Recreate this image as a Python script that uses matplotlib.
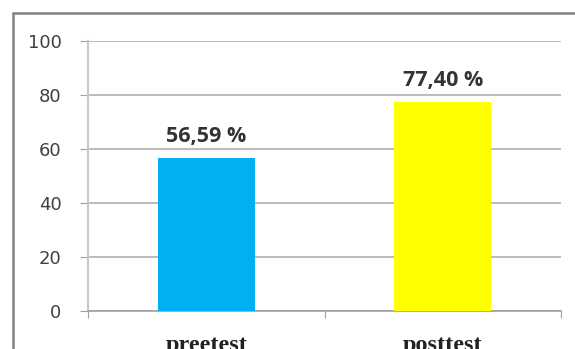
import matplotlib.pyplot as plt
from matplotlib.patches import Rectangle

categories = ["preetest", "posttest"]
values = [56.59, 77.40]
value_labels = ["56,59 %", "77,40 %"]
bar_colors = ["#00b0f0", "#ffff00"]
y_ticks = [0, 20, 40, 60, 80, 100]

fig = plt.figure(figsize=(5.75, 3.49), dpi=100)
ax = fig.add_axes([0.153, 0.109, 0.823, 0.774])

# outer chart border (cut off at right and bottom in the original)
fig.patches.append(Rectangle((13 / 575, -0.1), 1.2, 1 - 13 / 349 + 0.1,
                             transform=fig.transFigure, fill=False,
                             edgecolor="#808080", linewidth=1.8))

x = [0.5, 1.5]
ax.bar(x, values, width=0.41, color=bar_colors, zorder=3)
for xi, v, lab in zip(x, values, value_labels):
    ax.annotate(lab, (xi, v), xytext=(0, 8), textcoords="offset points",
                ha="center", va="bottom", fontsize=15.5, fontweight="bold",
                color="#333333", family="Open Sans")

ax.set_xlim(0, 2)
ax.set_ylim(0, 100)
ax.set_yticks(y_ticks)
ax.set_yticklabels([str(t) for t in y_ticks], fontsize=13, color="#404040",
                   family="DejaVu Sans")
ax.yaxis.grid(True, color="#b0b0b0", linewidth=1.2)
ax.set_axisbelow(True)

ax.set_xticks([0, 1, 2])
ax.set_xticklabels([])
ax.set_xticks(x, minor=True)
ax.set_xticklabels(categories, minor=True, fontsize=17.5, fontweight="bold",
                   family="Liberation Serif", color="#222222")
ax.tick_params(axis="x", which="minor", length=0, pad=17)
ax.tick_params(axis="x", which="major", length=5, color="#a0a0a0", direction="out")
ax.tick_params(axis="y", length=6, color="#a0a0a0", pad=13)

for s in ["top", "right"]:
    ax.spines[s].set_visible(False)
ax.spines["left"].set_color("#c8c8c8")
ax.spines["left"].set_linewidth(1.5)
ax.spines["bottom"].set_color("#a0a0a0")
ax.spines["bottom"].set_linewidth(1.2)

fig.savefig("out.png", dpi=100)
